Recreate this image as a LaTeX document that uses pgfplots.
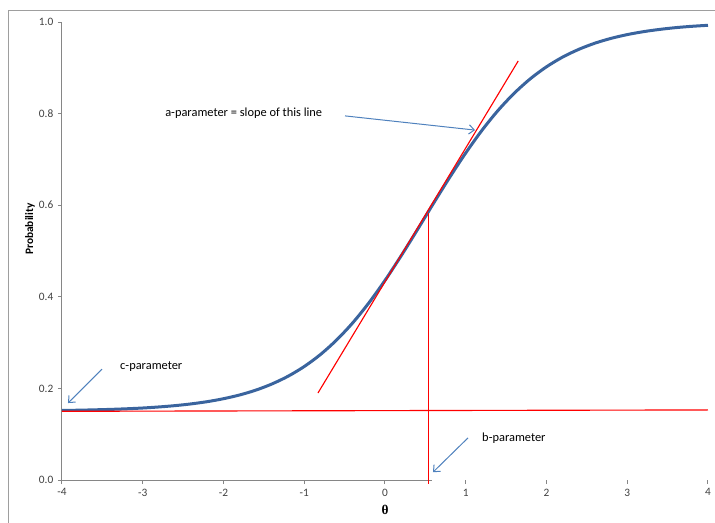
\documentclass[border=0pt]{standalone}
\usepackage{fontspec}
\setmainfont{Carlito}
\newfontfamily\grfont{Liberation Serif}
\usepackage{pgfplots}
\pgfplotsset{compat=1.18}
\usetikzlibrary{arrows.meta}
\definecolor{curveblue}{RGB}{58,100,158}
\definecolor{arrowblue}{RGB}{79,129,189}
\definecolor{axisgray}{RGB}{134,134,134}
\definecolor{ticktext}{RGB}{64,64,64}
\definecolor{pureRed}{RGB}{255,0,0}
\begin{document}
\begin{tikzpicture}
\useasboundingbox (0,0) rectangle (536.25pt,-391.5pt);
\draw[axisgray!80, line width=0.75pt] (6pt,-392pt) -- (6pt,-7.5pt) -- (537pt,-7.5pt);
\begin{axis}[
  at={(46.5pt,-360pt)}, anchor=south west,
  scale only axis, width=484.5pt, height=343.5pt,
  xmin=-4, xmax=4, ymin=0, ymax=1,
  axis x line*=bottom, axis y line*=left,
  axis line style={axisgray, line width=0.75pt},
  x axis line style={draw=none},
  tick align=outside, major tick length=3pt,
  tick style={axisgray, line width=0.75pt},
  xtick={-4,-3,...,4}, ytick={0,0.2,0.4,0.6,0.8,1.0},
  minor tick num=0,
  /pgf/number format/assume math mode=true,
  ticklabel style={font=\fontsize{8.5}{10}\selectfont, text=ticktext},
  yticklabel style={/pgf/number format/.cd, fixed, fixed zerofill, precision=1},
  xticklabel style={/pgf/number format/.cd, fixed, precision=0},
  clip=false,
]
\draw[axisgray, line width=0.75pt] (axis cs:-4,0) -- (axis cs:0.58,0);
\addplot[curveblue, line width=2.25pt, smooth] coordinates {
(-4.0,0.1519) (-3.8,0.1524) (-3.6,0.1532) (-3.4,0.1542) (-3.2,0.1555)
(-3.0,0.1572) (-2.8,0.1595) (-2.6,0.1624) (-2.4,0.1662) (-2.2,0.1711)
(-2.0,0.1775) (-1.8,0.1857) (-1.6,0.1962) (-1.4,0.2097) (-1.2,0.2266)
(-1.0,0.2478) (-0.8,0.2739) (-0.6,0.3056) (-0.4,0.3431) (-0.2,0.3867)
(0.0,0.4358) (0.2,0.4895) (0.4,0.5461) (0.6,0.6039) (0.8,0.6605)
(1.0,0.7141) (1.2,0.7633) (1.4,0.8069) (1.6,0.8444) (1.8,0.8761)
(2.0,0.9022) (2.2,0.9234) (2.4,0.9403) (2.6,0.9538) (2.8,0.9643)
(3.0,0.9725) (3.2,0.9789) (3.4,0.9838) (3.6,0.9877) (3.8,0.9906)
(4.0,0.9928)};
\addplot[pureRed, line width=0.85pt] coordinates {(-0.83,0.19) (1.65,0.915)};
\addplot[pureRed, line width=0.85pt] coordinates {(-4,0.150) (4,0.153)};
\addplot[pureRed, line width=1pt] coordinates {(0.535,-0.008) (0.535,0.583)};
\node[anchor=west, inner sep=0pt, font=\fontsize{9.3}{11}\selectfont] at (axis cs:-2.724,0.801) {a-parameter = slope of this line};
\node[anchor=west, inner sep=0pt, font=\fontsize{9.3}{11}\selectfont] at (axis cs:-3.282,0.247) {c-parameter};
\node[anchor=west, inner sep=0pt, font=\fontsize{9.3}{11}\selectfont] at (axis cs:1.201,0.092) {b-parameter};
\draw[arrowblue, line width=0.75pt, -{Straight Barb[length=4pt,width=7pt]}] (axis cs:-0.495,0.795) -- (axis cs:1.115,0.764);
\draw[arrowblue, line width=0.75pt, -{Straight Barb[length=4pt,width=7pt]}] (axis cs:-3.505,0.242) -- (axis cs:-3.926,0.168);
\draw[arrowblue, line width=0.75pt, -{Straight Barb[length=4pt,width=7pt]}] (axis cs:1.028,0.092) -- (axis cs:0.594,0.017);
\node[font=\fontsize{10}{12}\selectfont\bfseries\grfont] at (axis cs:0,-0.0655) {θ};
\node[rotate=90, font=\fontsize{8.5}{10}\selectfont\bfseries] at (axis cs:-4.396,0.548) {Probability};
\end{axis}
\end{tikzpicture}
\end{document}
